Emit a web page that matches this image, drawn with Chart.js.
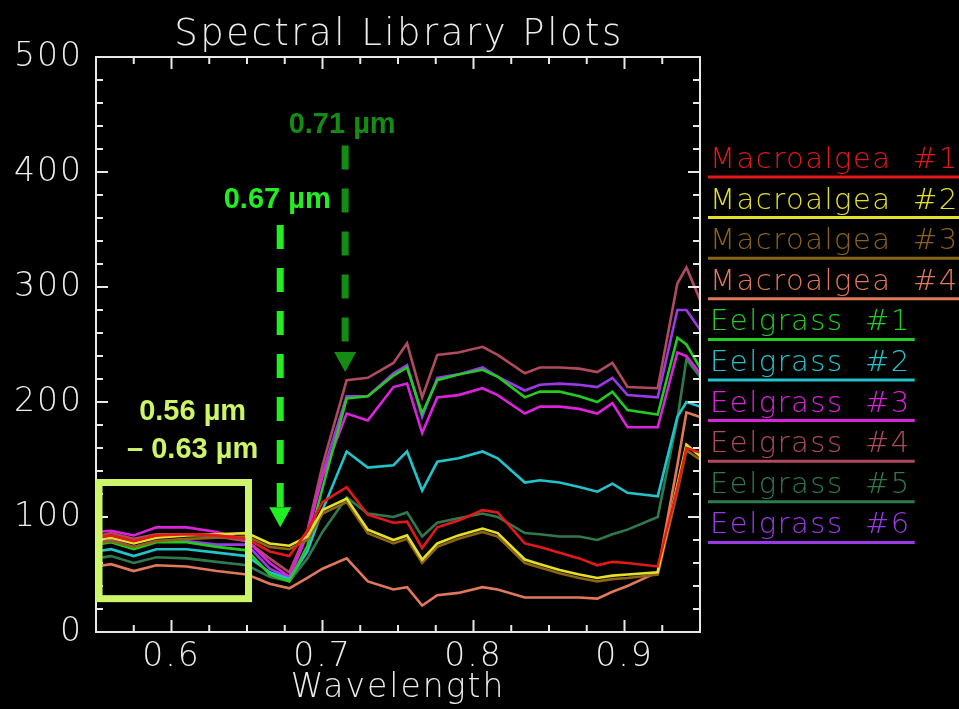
<!DOCTYPE html>
<html><head><meta charset="utf-8">
<script src="https://cdn.jsdelivr.net/npm/chart.js@4.4.0/dist/chart.umd.min.js"></script>
<style>html,body{margin:0;padding:0;background:#000;}#wrap{width:959px;height:709px;position:relative;}</style>
</head><body><div id="wrap"><canvas id="c" width="959" height="709"></canvas></div>
<script>
// ---- data ----
const wavelengths = [0.55, 0.56, 0.575, 0.59, 0.61, 0.63, 0.65, 0.665, 0.678, 0.69, 0.70, 0.716, 0.73, 0.747, 0.756, 0.766, 0.776, 0.79, 0.806, 0.816, 0.834, 0.844, 0.857, 0.87, 0.882, 0.892, 0.902, 0.922, 0.935, 0.941, 0.95];
const macroalgea1 = [82, 84, 79, 84, 85, 84, 81, 70, 66, 88, 113, 126, 102, 95, 96, 73, 91, 97, 106, 104, 77, 74, 69, 64, 58, 61, 60, 57, 125, 160, 156];
const macroalgea2 = [80, 82, 77, 82, 84, 85, 86, 77, 75, 83, 106, 116, 89, 80, 84, 63, 77, 84, 90, 86, 63, 59, 54, 50, 47, 49, 50, 52, 128, 163, 153];
const macroalgea3 = [77, 79, 74, 79, 81, 82, 83, 74, 72, 80, 103, 113, 86, 77, 81, 60, 74, 81, 87, 83, 60, 56, 51, 47, 44, 46, 47, 50, 122, 158, 150];
const macroalgea4 = [57, 59, 53, 58, 57, 53, 50, 42, 38, 47, 55, 64, 44, 37, 39, 23, 32, 34, 39, 37, 30, 30, 30, 30, 29, 35, 40, 52, 145, 191, 187];
const eelgrass1 = [76, 78, 72, 78, 78, 74, 71, 50, 44, 75, 125, 203, 205, 223, 230, 190, 219, 224, 228, 222, 204, 209, 209, 205, 200, 209, 193, 189, 256, 250, 230];
const eelgrass2 = [70, 72, 66, 72, 72, 69, 66, 52, 46, 70, 106, 157, 143, 145, 157, 123, 148, 151, 157, 151, 130, 132, 130, 126, 122, 129, 121, 118, 187, 200, 196];
const eelgrass3 = [87, 88, 84, 91, 91, 87, 80, 60, 48, 86, 135, 190, 184, 213, 216, 173, 204, 206, 212, 206, 190, 196, 196, 194, 190, 199, 178, 178, 243, 240, 225];
const eelgrass4 = [83, 86, 81, 85, 85, 83, 79, 64, 52, 88, 145, 219, 221, 234, 251, 204, 241, 243, 248, 241, 225, 230, 230, 229, 226, 234, 213, 212, 303, 317, 289];
const eelgrass5 = [64, 66, 60, 65, 64, 61, 58, 48, 44, 64, 87, 117, 103, 100, 104, 83, 95, 99, 103, 100, 86, 85, 83, 83, 80, 85, 89, 100, 185, 237, 222];
const eelgrass6 = [78, 80, 74, 79, 79, 76, 76, 55, 47, 85, 138, 205, 205, 225, 232, 187, 221, 224, 230, 222, 210, 215, 216, 215, 213, 221, 206, 204, 280, 280, 263];

const seriesNames = ["Macroalgea  #1", "Macroalgea  #2", "Macroalgea  #3", "Macroalgea  #4",
  "Eelgrass  #1", "Eelgrass  #2", "Eelgrass  #3", "Eelgrass  #4", "Eelgrass  #5", "Eelgrass  #6"];
const seriesValues = [macroalgea1, macroalgea2, macroalgea3, macroalgea4,
  eelgrass1, eelgrass2, eelgrass3, eelgrass4, eelgrass5, eelgrass6];
const seriesColors = ["#e41818", "#e4e02a", "#8c6418", "#e0785a",
  "#22cc22", "#22c4cc", "#dc22dc", "#b04a5e", "#2e7a4e", "#9a3ae6"];

const xTickValues = [0.6, 0.7, 0.8, 0.9];
const yTickValues = [0, 100, 200, 300, 400, 500];
const xMinorStep = 0.025;
const yMinorStep = 20;

const chartTitle = "Spectral Library Plots";
const xTitle = "Wavelength";

// annotations
const arrowWavelengths = [0.672, 0.715];
const arrowTopValues = [354, 423];
const arrowTipValues = [91, 226];
const arrowLabelValues = [369, 434];
const arrowLabels = ["0.67 µm", "0.71 µm"];
const arrowColors = ["#22ee22", "#148c14"];
const bandBoxWavelengths = [0.552, 0.651];
const bandBoxValues = [29, 130];
const bandLabelWavelength = 0.614;
const bandLabelValues = [184, 151];
const bandLabels = ["0.56 µm", "– 0.63 µm"];
const bandColor = "#ccf56a";

// ---- chart ----
const FONT = "'DejaVu Sans', 'Liberation Sans', sans-serif";
Chart.defaults.font.family = FONT;
Chart.defaults.color = "#ececec";

const datasets = seriesNames.map((name, i) => ({
  label: name,
  data: wavelengths.map((w, k) => ({x: w, y: seriesValues[i][k]})),
  borderColor: seriesColors[i],
  backgroundColor: seriesColors[i],
  borderWidth: 2.6,
  pointRadius: 0,
  tension: 0,
  fill: false
}));

function line(ctx, x1, y1, x2, y2) { ctx.beginPath(); ctx.moveTo(x1, y1); ctx.lineTo(x2, y2); ctx.stroke(); }

const decor = {
  id: 'decor',
  beforeDraw(chart) {
    const c = chart.ctx; c.save(); c.fillStyle = '#000'; c.fillRect(0, 0, chart.width, chart.height); c.restore();
    if ('letterSpacing' in c) c.letterSpacing = '2px';
  },
  afterDraw(chart) {
    const {ctx, chartArea: a, scales: {x, y}} = chart;
    ctx.save();
    // frame
    ctx.strokeStyle = '#e8e8e8'; ctx.lineWidth = 2;
    ctx.strokeRect(a.left, a.top, a.right - a.left, a.bottom - a.top);
    ctx.lineWidth = 2;
    for (let v = y.min; v <= y.max + 1e-9; v += yMinorStep) {
      const py = y.getPixelForValue(v);
      const L = yTickValues.includes(Math.round(v)) ? 12 : 7;
      line(ctx, a.left, py, a.left + L, py);
      line(ctx, a.right, py, a.right - L, py);
    }
    const nX = Math.round((x.max - x.min) / xMinorStep);
    for (let i = 0; i <= nX; i++) {
      const w = x.min + i * xMinorStep;
      const px = x.getPixelForValue(w);
      const L = xTickValues.some(t => Math.abs(t - w) < 1e-6) ? 12 : 7;
      line(ctx, px, a.bottom, px, a.bottom - L);
      line(ctx, px, a.top, px, a.top + L);
    }
    // title
    ctx.fillStyle = '#ececec';
    ctx.font = "300 37px " + FONT;
    if ('letterSpacing' in ctx) ctx.letterSpacing = '2.5px';
    ctx.textAlign = 'center'; ctx.textBaseline = 'alphabetic';
    ctx.fillText(chartTitle, (a.left + a.right) / 2 + 1, a.top - 12);
    if ('letterSpacing' in ctx) ctx.letterSpacing = '0px';

    // band box
    ctx.strokeStyle = bandColor; ctx.lineWidth = 7;
    const bx1 = x.getPixelForValue(bandBoxWavelengths[0]), bx2 = x.getPixelForValue(bandBoxWavelengths[1]);
    const by1 = y.getPixelForValue(bandBoxValues[1]), by2 = y.getPixelForValue(bandBoxValues[0]);
    ctx.strokeRect(bx1, by1, bx2 - bx1, by2 - by1);
    ctx.fillStyle = bandColor;
    ctx.font = "bold 29px 'Liberation Sans', Arial, sans-serif";
    ctx.textAlign = 'center';
    bandLabels.forEach((t, i) => ctx.fillText(t, x.getPixelForValue(bandLabelWavelength), y.getPixelForValue(bandLabelValues[i])));

    // arrows
    arrowWavelengths.forEach((w, i) => {
      const px = x.getPixelForValue(w);
      const top = y.getPixelForValue(arrowTopValues[i]);
      const tip = y.getPixelForValue(arrowTipValues[i]);
      const headH = 20, headW = 22;
      ctx.strokeStyle = arrowColors[i]; ctx.fillStyle = arrowColors[i];
      ctx.lineWidth = 7; ctx.setLineDash([24, 19]);
      line(ctx, px, top, px, tip - headH);
      ctx.setLineDash([]);
      ctx.beginPath(); ctx.moveTo(px - headW / 2, tip - headH); ctx.lineTo(px + headW / 2, tip - headH); ctx.lineTo(px, tip); ctx.closePath(); ctx.fill();
      ctx.font = "bold 29px 'Liberation Sans', Arial, sans-serif";
      ctx.textAlign = 'center';
      ctx.fillText(arrowLabels[i], px - 3, y.getPixelForValue(arrowLabelValues[i]));
    });

    // legend
    ctx.font = "300 29px " + FONT;
    ctx.textAlign = 'left';
    if ('letterSpacing' in ctx) ctx.letterSpacing = '1.5px';
    chart.data.datasets.forEach((ds, i) => {
      const uy = a.top + 120 + i * 40.6;
      const tx = a.right + 10;
      ctx.fillStyle = ds.borderColor; ctx.strokeStyle = ds.borderColor;
      ctx.fillText(ds.label, tx, uy - 9);
      const wdt = ctx.measureText(ds.label).width;
      ctx.lineWidth = 3;
      line(ctx, tx - 2, uy, tx + wdt + 4, uy);
    });
    ctx.restore();
  }
};

new Chart(document.getElementById('c'), {
  type: 'line',
  data: {datasets},
  options: {
    responsive: false,
    animation: false,
    layout: {padding: {top: 57, right: 259, left: 0, bottom: 0}},
    plugins: {legend: {display: false}, title: {display: false}, tooltip: {enabled: false}},
    scales: {
      x: {
        type: 'linear', min: 0.55, max: 0.95,
        grid: {display: false, drawTicks: false},
        border: {display: false},
        afterBuildTicks: s => { s.ticks = xTickValues.map(v => ({value: v})); },
        afterFit: s => { s.height = 77; },
        ticks: {color: '#ececec', font: {size: 33, weight: 300}, padding: 6, callback: v => String(v), maxRotation: 0},
        title: {display: true, text: xTitle, color: '#ececec', font: {size: 33, weight: 300}, padding: {top: 0, bottom: 1}}
      },
      y: {
        min: 0, max: 500,
        grid: {display: false, drawTicks: false},
        border: {display: false},
        afterBuildTicks: s => { s.ticks = yTickValues.map(v => ({value: v})); },
        afterFit: s => { s.width = 96; },
        ticks: {color: '#ececec', font: {size: 33, weight: 300}, padding: 13}
      }
    }
  },
  plugins: [decor]
});
</script></body></html>
